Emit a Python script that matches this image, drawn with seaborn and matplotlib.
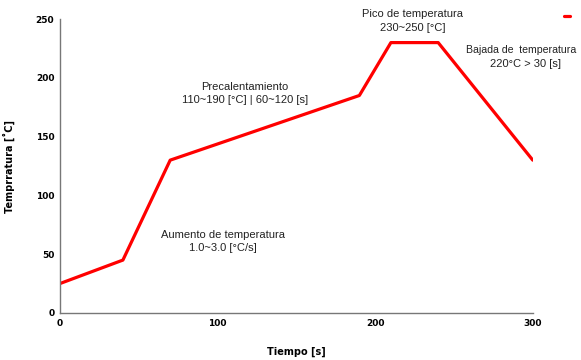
import matplotlib
matplotlib.use("Agg")
import matplotlib.pyplot as plt
import seaborn as sns
import pandas as pd

# Reflow soldering profile
tiempo = [0, 40, 70, 190, 210, 240, 300]
temperatura = [25, 45, 130, 185, 230, 230, 130]
x_ticks = [0, 100, 200, 300]
y_ticks = [0, 50, 100, 150, 200, 250]

df = pd.DataFrame({"Tiempo": tiempo, "Temperatura": temperatura})

sns.set_theme(style="white")
plt.rcParams["font.family"] = ["Liberation Sans", "DejaVu Sans"]

fig = plt.figure(figsize=(5.81, 3.60), dpi=100)
ax = fig.add_axes([0.103, 0.1306, 0.814, 0.8164])

sns.lineplot(data=df, x="Tiempo", y="Temperatura", ax=ax, color="#ff0000",
             linewidth=2.3, label=" ", sort=False)

ax.set_xlim(0, 300)
ax.set_ylim(0, 250)
ax.set_xticks(x_ticks)
ax.set_yticks(y_ticks)
ax.tick_params(axis="both", length=0, labelsize=6.5, pad=4)
for lab in ax.get_xticklabels() + ax.get_yticklabels():
    lab.set_fontweight("bold")
    lab.set_fontfamily("DejaVu Sans")
    lab.set_color("black")

for side in ["top", "right"]:
    ax.spines[side].set_visible(False)
for side in ["left", "bottom"]:
    ax.spines[side].set_color("#777777")
    ax.spines[side].set_linewidth(1.0)

ax.set_xlabel("Tiempo [s]", fontsize=7, fontweight="bold", family="DejaVu Sans",
              color="black", labelpad=14)
ax.set_ylabel("Temprratura [˚C]", fontsize=7, fontweight="bold", family="DejaVu Sans",
              color="black", labelpad=15)

# Phase annotations
txt = dict(fontsize=8, color="#222222", ha="center", va="center")
fig.text(413 / 581, 1 - 14 / 360, "Pico de temperatura", **txt)
fig.text(413 / 581, 1 - 28 / 360, "230~250 [°C]", **txt)
fig.text(521 / 581, 1 - 50 / 360, "Bajada de  temperatura", **{**txt, "fontsize": 7.6})
fig.text(525 / 581, 1 - 64 / 360, "220°C > 30 [s]", **txt)
fig.text(245 / 581, 1 - 87 / 360, "Precalentamiento", **txt)
fig.text(245 / 581, 1 - 100 / 360, "110~190 [°C] | 60~120 [s]", **txt)
fig.text(223 / 581, 1 - 235 / 360, "Aumento de temperatura", **txt)
fig.text(223 / 581, 1 - 248 / 360, "1.0~3.0 [°C/s]", **txt)

ax.legend(loc="center", bbox_to_anchor=(568 / 581, 1 - 17 / 360),
          bbox_transform=fig.transFigure, frameon=False, handlelength=0.7,
          handletextpad=0, borderpad=0, fontsize=6)

fig.savefig("out.png", dpi=100)
